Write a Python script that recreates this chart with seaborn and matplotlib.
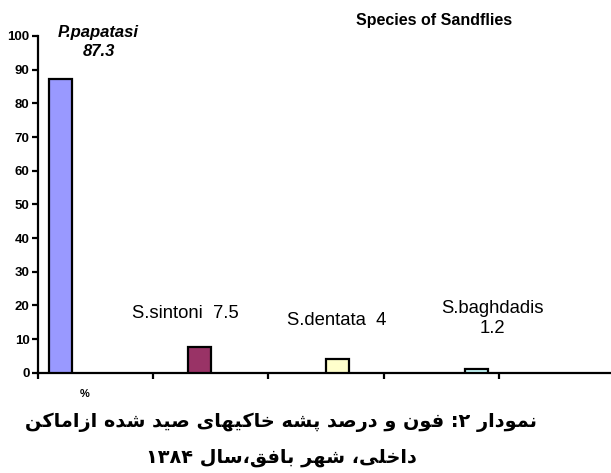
import re
import matplotlib
matplotlib.use("Agg")
import matplotlib.pyplot as plt
from matplotlib import font_manager
from matplotlib.ft2font import FT2Font
import seaborn as sns
import pandas as pd
import numpy as np

# ---------------- data ----------------
species = ["P.papatasi", "S.sintoni", "S.dentata", "S.baghdadis"]
percent = [87.3, 7.5, 4.0, 1.2]
value_text = ["87.3", "7.5", "4", "1.2"]
label_sep = ["\n", "  ", "  ", "\n"]
bar_colors = ["#9999FF", "#993366", "#FFFFCC", "#CCFFFF"]
y_ticks = [0, 10, 20, 30, 40, 50, 60, 70, 80, 90, 100]
title_en = "Species of Sandflies"
unit_label = "%"
caption_lines = [
    "نمودار ۲: فون و درصد پشه خاکیهای صید شده ازاماکن",
    "داخلی، شهر بافق،سال ۱۳۸۴",
]

# ---------------- minimal Arabic-script shaping (matplotlib has no shaper) ----
FORMS = {  # isolated, final, initial, medial
    "\u0627": ("\uFE8D", "\uFE8E", None, None),
    "\u0628": ("\uFE8F", "\uFE90", "\uFE91", "\uFE92"),
    "\u067E": ("\uFB56", "\uFB57", "\uFB58", "\uFB59"),
    "\u062E": ("\uFEA5", "\uFEA6", "\uFEA7", "\uFEA8"),
    "\u062F": ("\uFEA9", "\uFEAA", None, None),
    "\u0631": ("\uFEAD", "\uFEAE", None, None),
    "\u0632": ("\uFEAF", "\uFEB0", None, None),
    "\u0633": ("\uFEB1", "\uFEB2", "\uFEB3", "\uFEB4"),
    "\u0634": ("\uFEB5", "\uFEB6", "\uFEB7", "\uFEB8"),
    "\u0635": ("\uFEB9", "\uFEBA", "\uFEBB", "\uFEBC"),
    "\u0641": ("\uFED1", "\uFED2", "\uFED3", "\uFED4"),
    "\u0642": ("\uFED5", "\uFED6", "\uFED7", "\uFED8"),
    "\u06A9": ("\uFB8E", "\uFB8F", "\uFB90", "\uFB91"),
    "\u0643": ("\uFED9", "\uFEDA", "\uFEDB", "\uFEDC"),
    "\u0644": ("\uFEDD", "\uFEDE", "\uFEDF", "\uFEE0"),
    "\u0645": ("\uFEE1", "\uFEE2", "\uFEE3", "\uFEE4"),
    "\u0646": ("\uFEE5", "\uFEE6", "\uFEE7", "\uFEE8"),
    "\u0648": ("\uFEED", "\uFEEE", None, None),
    "\u0647": ("\uFEE9", "\uFEEA", "\uFEEB", "\uFEEC"),
    "\u06CC": ("\uFBFC", "\uFBFD", "\uFBFE", "\uFBFF"),
    "\u064A": ("\uFEF1", "\uFEF2", "\uFEF3", "\uFEF4"),
}
FALLBACK = {"\u06A9": "\u0643"}
YEH_FALLBACK = ("\uFEEF", "\uFEF0", "\uFEF3", "\uFEF4")

fa_prop = font_manager.FontProperties(family="DejaVu Sans", weight="bold")
cmap = FT2Font(font_manager.findfont(fa_prop)).get_charmap()


def form_of(ch, idx):
    f = FORMS[ch][idx]
    if f is not None and ord(f) in cmap:
        return f
    if ch in FALLBACK:
        return form_of(FALLBACK[ch], idx)
    if ch == "\u06CC" and ord(YEH_FALLBACK[idx]) in cmap:
        return YEH_FALLBACK[idx]
    return ch


def dual(ch):
    return ch in FORMS and FORMS[ch][2] is not None


def shape_rtl(s):
    out = []
    for i, ch in enumerate(s):
        if ch not in FORMS:
            out.append(ch)
            continue
        prev = s[i - 1] if i > 0 else ""
        nxt = s[i + 1] if i + 1 < len(s) else ""
        jp = dual(prev)
        jn = dual(ch) and nxt in FORMS
        idx = 3 if (jp and jn) else 1 if jp else 2 if jn else 0
        out.append(form_of(ch, idx))
    vis = "".join(out)[::-1]
    return re.sub(r"[0-9\u06F0-\u06F9]+", lambda m: m.group(0)[::-1], vis)


# ---------------- figure ----------------
sns.set_theme(style="white")
plt.rcParams["font.family"] = ["Liberation Sans", "DejaVu Sans"]
plt.rcParams["text.color"] = "black"
plt.rcParams["axes.labelcolor"] = "black"
plt.rcParams["xtick.color"] = "black"
plt.rcParams["ytick.color"] = "black"
plt.rcParams["axes.edgecolor"] = "black"

W, H = 611, 473
fig = plt.figure(figsize=(W / 100, H / 100), dpi=100)
fig.patch.set_facecolor("white")
ax = fig.add_axes([37.8 / W, 1 - 372.7 / H, 1 - 37.8 / W, (372.7 - 36.0) / H])
ax.set_facecolor("white")

df = pd.DataFrame({"species": species, "percent": percent})
sns.barplot(data=df, x="species", y="percent", hue="species", order=species,
            hue_order=species, palette=bar_colors, saturation=1, width=1 / 6,
            edgecolor="black", linewidth=1.6, legend=False, ax=ax, zorder=3)

ax.set_ylim(0, 100)
ax.set_xlim(-1 / 6, 3.975)
ax.set_yticks(y_ticks)
ax.set_yticklabels([str(t) for t in y_ticks], fontweight="bold", fontsize=9.5,
                   color="black")
ax.set_xticks(np.arange(-1 / 6, 3.98, 5 / 6))
ax.set_xticklabels([])
ax.set_xlabel("")
ax.set_ylabel("")
for sp in ("top", "right"):
    ax.spines[sp].set_visible(False)
for sp in ("left", "bottom"):
    ax.spines[sp].set_color("black")
    ax.spines[sp].set_linewidth(1.6)
ax.tick_params(axis="both", direction="out", length=4, width=1.6,
               color="black", labelcolor="black", pad=2, left=True, bottom=True)
ax.grid(False)

# data labels (placed as in the original)
label_dx = [0.273, -0.100, -0.009, 0.115]
label_y = [98.1, 17.6, 15.65, 16.2]
for i, (name, val, sep) in enumerate(zip(species, value_text, label_sep)):
    txt = name + sep + val
    if i == 0:
        ax.text(i + label_dx[i], label_y[i], txt, ha="center", va="center",
                fontsize=12, fontweight="bold", fontstyle="italic",
                linespacing=1.35, clip_on=False, color="black")
    else:
        ax.text(i + label_dx[i], label_y[i], txt, ha="center", va="center",
                fontsize=13.3, linespacing=1.25, clip_on=False, color="black")

fig.text(434.5 / W, 1 - 20.7 / H, title_en, ha="center", va="center",
         fontsize=11.5, fontweight="bold", color="black")
fig.text(85 / W, 1 - 394 / H, unit_label, ha="center", va="center",
         fontsize=8, fontweight="bold", color="black")

cap_y = [422, 457]
cap_texts = []
for line, yy in zip(caption_lines, cap_y):
    cap_texts.append(fig.text(281 / W, 1 - yy / H, shape_rtl(line), ha="center",
                              va="center", fontsize=14, fontweight="bold",
                              family=["DejaVu Sans"], color="black"))
# fit caption to the original width
fig.canvas.draw()
r = fig.canvas.get_renderer()
w0 = cap_texts[0].get_window_extent(r).width
fs = 14 * 514 / w0
for t in cap_texts:
    t.set_fontsize(fs)

fig.savefig("out.png", dpi=100, facecolor="white")
